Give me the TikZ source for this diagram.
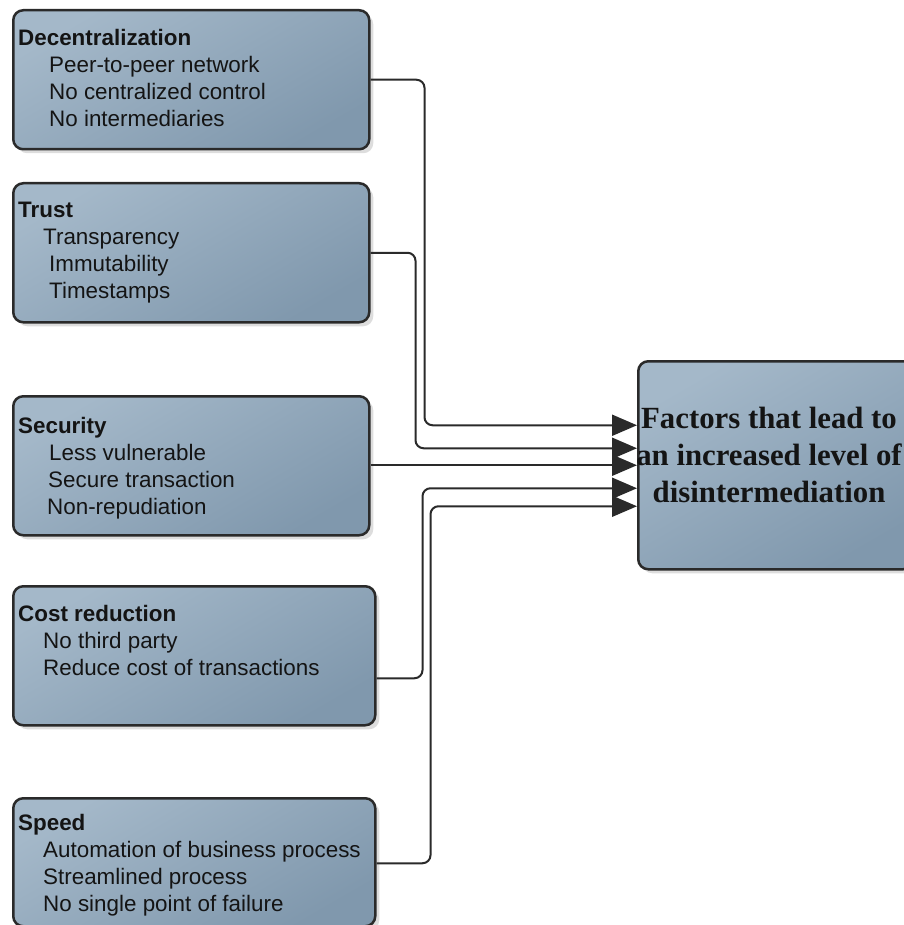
\documentclass[tikz,border=0pt]{standalone}
\usepackage{fontspec}
\setmainfont{Liberation Sans}
\newfontfamily\goalfont{Liberation Serif}
\usetikzlibrary{arrows.meta,calc,shadows}
\definecolor{boxlight}{HTML}{A4B8C9}
\definecolor{boxdark}{HTML}{8098AD}
\definecolor{edge}{HTML}{2A2A2A}
\begin{document}
\begin{tikzpicture}[x=1pt,y=-1pt,
  factor/.style={draw=edge, line width=2.5pt, rounded corners=10pt,
    top color=boxlight, bottom color=boxdark, shading angle=30,
    drop shadow={shadow xshift=4pt, shadow yshift=-4pt, fill=black!22, opacity=0.6},
    anchor=north west, inner sep=0pt},
  boxtext/.style={anchor=north west, align=left, inner sep=0pt, text=black!92,
    font={\fontsize{22.4}{27}\selectfont}},
  goaltext/.style={anchor=north, align=center, inner sep=0pt, text=black!92,
    font={\goalfont\bfseries\fontsize{30.8}{37}\selectfont}},
  conn/.style={draw=edge, line width=2pt, rounded corners=8pt,
    -{Triangle[length=25pt,width=21pt]}}]
\useasboundingbox (0,0) rectangle (903,925);
% boxes
\node[factor, minimum width=356pt, minimum height=139pt] (dec) at (12,9) {};
\node[factor, minimum width=356pt, minimum height=139pt] (trust) at (12,182) {};
\node[factor, minimum width=356pt, minimum height=139pt] (sec) at (12,395) {};
\node[factor, minimum width=362pt, minimum height=139pt] (cost) at (12,585) {};
\node[factor, minimum width=362pt, minimum height=128pt] (speed) at (12,797) {};
\node[factor, minimum width=275pt, minimum height=208pt] (goal) at (637,360) {};
% texts
\node[boxtext] (dect) at (18,29) {\textbf{Decentralization}\\
  \hspace*{31pt}Peer-to-peer network\\
  \hspace*{31pt}No centralized control\\
  \hspace*{31pt}No intermediaries};
\node[boxtext] (trustt) at (18,202) {\textbf{Trust}\\
  \hspace*{25pt}Transparency\\
  \hspace*{31pt}Immutability\\
  \hspace*{31pt}Timestamps};
\node[boxtext] (sect) at (18,417) {\textbf{Security}\\
  \hspace*{31pt}Less vulnerable\\
  \hspace*{30pt}Secure transaction\\
  \hspace*{29pt}Non-repudiation};
\node[boxtext] (costt) at (18,605) {\textbf{Cost reduction}\\
  \hspace*{25pt}No third party\\
  \hspace*{25pt}Reduce cost of transactions};
\node[boxtext] (speedt) at (18,814) {\textbf{Speed}\\
  \hspace*{25pt}Automation of business process\\
  \hspace*{25pt}Streamlined process\\
  \hspace*{25pt}No single point of failure};
\node[goaltext] (goalt) at (769,407) {Factors that lead to\\an increased level of\\disintermediation};
% connectors
\draw[conn] (dec.east) -- ++(54,0) |- ($(goal.west)+(0,-40)$);
\draw[conn] (trust.east) -- ++(45,0) |- ($(goal.west)+(0,-17)$);
\draw[conn] (sec.east |- goal.west) -- (goal.west);
\draw[conn] ($(cost.east)+(0,22.5)$) -- ++(46,0) |- ($(goal.west)+(0,23)$);
\draw[conn] ($(speed.east)+(0,1)$) -- ++(54,0) |- ($(goal.west)+(0,41)$);
\end{tikzpicture}
\end{document}
